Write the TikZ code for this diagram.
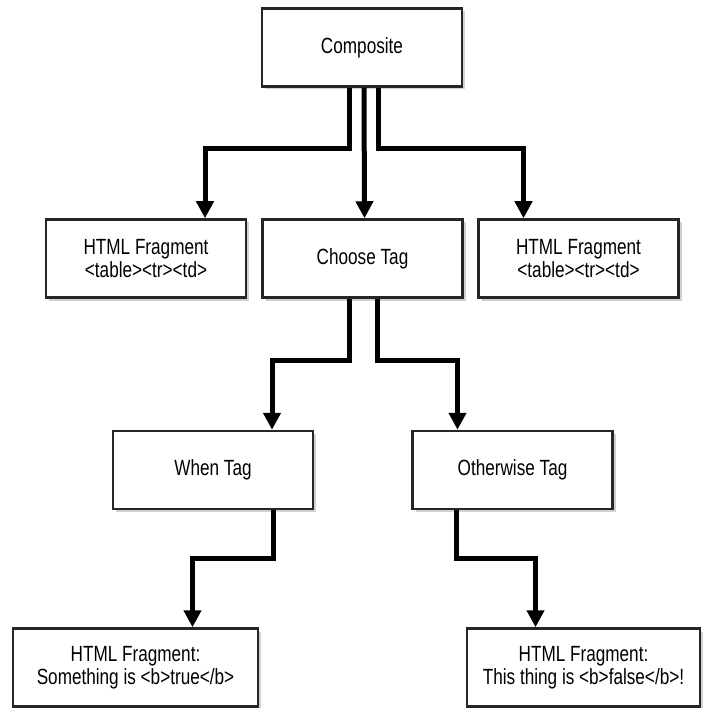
\documentclass[tikz,border=0pt]{standalone}
\usepackage{fontspec}
\setmainfont[FakeStretch=0.78]{Liberation Sans}
\usetikzlibrary{arrows.meta,calc,shadows}

\tikzset{
    tagbox/.style={
        draw=black!85, line width=2.5pt, fill=white,
        minimum width=200pt, minimum height=78pt,
        align=center, font=\fontsize{22}{23}\selectfont,
        drop shadow={shadow xshift=3pt, shadow yshift=-3pt, fill=black!18, opacity=1}
    },
    flow/.style={line width=5pt, -{Triangle[width=17pt,length=17pt]}}
}

\begin{document}
\begin{tikzpicture}[x=1pt, y=-1pt]
        \useasboundingbox (0,0) rectangle (702,708);

        % boxes
        \node[tagbox] (comp)   at (362,47.5)  {Composite};
        \node[tagbox] (htmlL)  at (146,258.5) {HTML Fragment\\<table><tr><td>};
        \node[tagbox] (choose) at (362.5,258.5) {Choose Tag};
        \node[tagbox] (htmlR)  at (578.5,258.5) {HTML Fragment\\<table><tr><td>};
        \node[tagbox] (when)   at (213,470)   {When Tag};
        \node[tagbox] (other)  at (512.5,470) {Otherwise Tag};
        \node[tagbox, minimum width=245pt] (fragT) at (135.5,667.5)
            {HTML Fragment:\\Something is <b>true</b>};
        \node[tagbox, minimum width=233pt] (fragF) at (583.5,667.5)
            {HTML Fragment:\\This thing is <b>false</b>!};

        % connectors
        \draw[flow] ($(comp.south)+(-13,0)$) |- ($(htmlL.north)+(59,-70)$)
            -- ($(htmlL.north)+(59,0)$);
        \draw[flow] ($(comp.south)+(2,0)$) -- ($(choose.north)+(2,0)$);
        \draw[flow] ($(comp.south)+(16,0)$) |- ($(htmlR.north)+(-55,-70)$)
            -- ($(htmlR.north)+(-55,0)$);

        \draw[flow] ($(choose.south)+(-13,0)$) |- ($(when.north)+(59,-69)$)
            -- ($(when.north)+(59,0)$);
        \draw[flow] ($(choose.south)+(15,0)$) |- ($(other.north)+(-55,-69)$)
            -- ($(other.north)+(-55,0)$);

        \draw[flow] ($(when.south)+(60,0)$) |- ($(fragT.north)+(57,-69)$)
            -- ($(fragT.north)+(57,0)$);
        \draw[flow] ($(other.south)+(-56,0)$) |- ($(fragF.north)+(-48,-69)$)
            -- ($(fragF.north)+(-48,0)$);
\end{tikzpicture}
\end{document}
